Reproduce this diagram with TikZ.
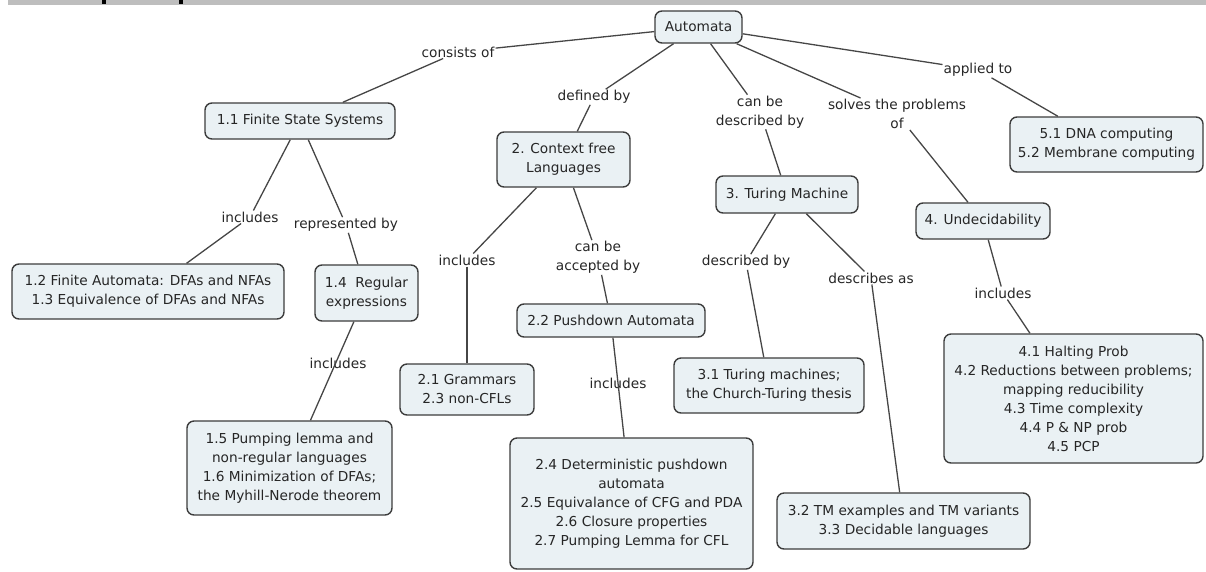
\documentclass[tikz,border=0pt]{standalone}
\usepackage{fontspec}
\setmainfont{DejaVu Sans}
\definecolor{mapfill}{RGB}{234, 241, 244}
\definecolor{mapedge}{RGB}{60, 60, 60}
\definecolor{mapline}{RGB}{70, 70, 70}
\definecolor{mapbar}{RGB}{190, 190, 190}

\begin{document}
\begin{tikzpicture}[x=1pt, y=-1pt,
    every node/.style={font=\fontsize{13.7}{19}\selectfont, text=black!85},
    concept/.style={draw=mapedge, line width=1.4pt, fill=mapfill, rounded corners=7pt, align=center, inner sep=2pt},
    phrase/.style={align=center, inner sep=1pt},
    link/.style={draw=mapline, line width=1.3pt}]
        \useasboundingbox (0,0) rectangle (1206,571);
        % title strip, cut off
        \fill[mapbar] (8,0) rectangle (1206,5);
        \fill[black] (102,0) rectangle (106,4);
        \fill[black] (179,0) rectangle (183,4);

        % concepts
        \node[concept, minimum width=87, minimum height=32] (auto) at (698.5,27) {Automata};
        \node[concept, minimum width=190, minimum height=36] (fss) at (300,121) {1.1 Finite State Systems};
        \node[concept, minimum width=133, minimum height=55] (cfl) at (563.5,159.5) {2. Context free\\Languages};
        \node[concept, minimum width=142, minimum height=37] (tm) at (787,194.5) {3. Turing Machine};
        \node[concept, minimum width=134, minimum height=36] (undec) at (983,221) {4. Undecidability};
        \node[concept, minimum width=193, minimum height=55] (appl) at (1106.5,144.5) {5.1 DNA computing\\5.2 Membrane computing};
        \node[concept, minimum width=272, minimum height=55] (fa) at (148,291.5) {1.2 Finite Automata: DFAs and NFAs\\1.3 Equivalence of DFAs and NFAs};
        \node[concept, minimum width=103, minimum height=56] (re) at (366.5,293) {1.4\ \ Regular\\expressions};
        \node[concept, minimum width=134, minimum height=51] (gram) at (467,389.5) {2.1 Grammars\\2.3 non-CFLs};
        \node[concept, minimum width=188, minimum height=33] (pda) at (611,320.5) {2.2 Pushdown Automata};
        \node[concept, minimum width=190, minimum height=55] (tmch) at (769,385.5) {3.1 Turing machines;\\the Church-Turing thesis};
        \node[concept, minimum width=205, minimum height=94] (pump) at (289.5,468) {1.5 Pumping lemma and\\non-regular languages\\1.6 Minimization of DFAs;\\the Myhill-Nerode theorem};
        \node[concept, minimum width=243, minimum height=131] (dpda) at (631.5,503.5) {2.4 Deterministic pushdown\\automata\\2.5 Equivalance of CFG and PDA\\2.6 Closure properties\\2.7 Pumping Lemma for CFL};
        \node[concept, minimum width=253, minimum height=56] (tmex) at (903.5,521) {3.2 TM examples and TM variants\\3.3 Decidable languages};
        \node[concept, minimum width=259, minimum height=129] (halt) at (1073.5,398.5) {4.1 Halting Prob\\4.2 Reductions between problems;\\mapping reducibility\\4.3 Time complexity\\4.4 P \& NP prob\\4.5 PCP};

        % linking phrases
        \node[phrase] (cons) at (458,52) {consists of};
        \node[phrase] (defby) at (594,97) {defined by};
        \node[phrase] (descby) at (760,112) {can be\\described by};
        \node[phrase] (solves) at (897,114) {solves the problems\\of};
        \node[phrase] (applto) at (978,70) {applied to};
        \node[phrase] (fssinc) at (250,217) {includes};
        \node[phrase] (repby) at (346,225) {represented by};
        \node[phrase] (reinc) at (338,363) {includes};
        \node[phrase] (cflinc) at (467,260) {includes};
        \node[phrase] (accby) at (598,257.5) {can be\\accepted by};
        \node[phrase] (pdainc) at (618,383) {includes};
        \node[phrase] (tmby) at (746,262) {described by};
        \node[phrase] (tmas) at (871,278) {describes as};
        \node[phrase] (undinc) at (1003,293) {includes};

        % links
        \draw[link] (auto) -- (cons);   \draw[link] (cons) -- (fss);
        \draw[link] (auto) -- (defby);  \draw[link] (defby) -- (cfl);
        \draw[link] (auto) -- (descby); \draw[link] (descby) -- (tm);
        \draw[link] (auto) -- (solves); \draw[link] (solves) -- (undec);
        \draw[link] (auto) -- (applto); \draw[link] (applto) -- (appl);
        \draw[link] (fss) -- (fssinc);  \draw[link] (fssinc) -- (fa);
        \draw[link] (fss) -- (repby);   \draw[link] (repby) -- (re);
        \draw[link] (re) -- (pump);
        \draw[link] (cfl) -- (cflinc);  \draw[link] (cflinc) -- (gram);
        \draw[link] (cfl) -- (accby);   \draw[link] (accby) -- (pda);
        \draw[link] (pda) -- (dpda);
        \draw[link] (tm) -- (tmby);     \draw[link] (tmby) -- (tmch);
        \draw[link] (tm) -- (tmas);     \draw[link] (tmas) -- (tmex);
        \draw[link] (undec) -- (undinc); \draw[link] (undinc) -- (halt);
      \end{tikzpicture}
\end{document}
